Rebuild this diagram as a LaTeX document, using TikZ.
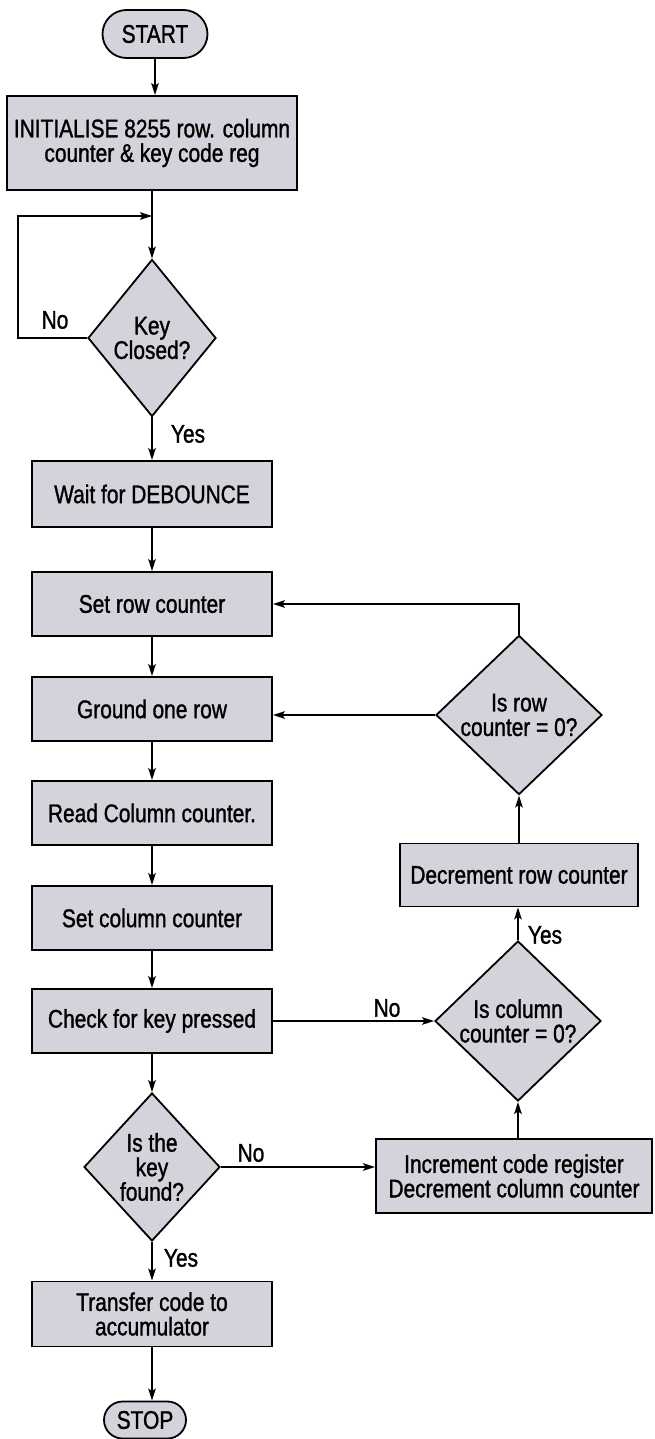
\documentclass[tikz,border=0pt]{standalone}
\usepackage{fontspec}
\setmainfont{Liberation Sans}[FakeStretch=0.82,FakeBold=1.2]
\usetikzlibrary{shapes.geometric,shapes.misc,arrows.meta}
\definecolor{boxfill}{RGB}{212,211,219}

\begin{document}
\begin{tikzpicture}[x=1pt,y=-1pt,
  every node/.style={font=\fontsize{25.5}{24.5}\selectfont},
  proc/.style={draw, line width=1.8pt, fill=boxfill, minimum width=240pt,
    minimum height=64pt, inner sep=0pt, align=center},
  decision/.style={draw, diamond, line width=1.8pt, fill=boxfill,
    inner sep=0pt, align=center},
  term/.style={draw, rounded rectangle, line width=1.8pt, fill=boxfill, inner sep=0pt},
  flow/.style={line width=1.8pt, -{Stealth[length=12pt,width=7.5pt,inset=2.5pt]}},
  lbl/.style={inner sep=0pt}]

\path[use as bounding box, fill=white] (0,0) rectangle (654,1439);

% main column
\node[term, minimum width=105pt, minimum height=48pt] (start) at (155,34) {START};
\node[proc, minimum width=290pt, minimum height=94pt] (init) at (152,143)
  {INITIALISE 8255 row. column\\counter \& key code reg};
\coordinate (join) at (152,216);
\node[decision, minimum width=128pt, minimum height=157pt] (key) at (152,338) {Key\\Closed?};
\coordinate (loop) at (18,338);
\node[proc, minimum height=66pt] (wait) at (152,494) {Wait for DEBOUNCE};
\node[proc] (setrow) at (152,604) {Set row counter};
\node[proc] (ground) at (152,709) {Ground one row};
\node[proc] (read) at (152,813) {Read Column counter.};
\node[proc] (setcol) at (152,918) {Set column counter};
\node[proc] (check) at (152,1021) {Check for key pressed};
\node[decision, minimum width=136pt, minimum height=148pt] (found) at (152,1167)
  {Is the\\key\\found?};
\node[proc, minimum height=65pt] (xfer) at (152,1314) {Transfer code to\\accumulator};
\node[term, minimum width=82pt, minimum height=37pt] (stop) at (145,1420) {STOP};

% right column
\node[decision, minimum width=166pt, minimum height=154pt] (rowz) at (519,715)
  {Is row\\counter = 0?};
\node[proc, minimum width=238pt, minimum height=63pt] (decr) at (519,875)
  {Decrement row counter};
\node[decision, minimum width=166pt, minimum height=152pt] (colz) at (518,1021)
  {Is column\\counter = 0?};
\node[proc, minimum width=276pt, minimum height=74pt] (incr) at (514,1176)
  {Increment code register\\Decrement column counter};

% branch labels
\node[lbl] (kno)  at (55,320)  {No};
\node[lbl] (kyes) at (188,434) {Yes};
\node[lbl] (cyes) at (545,935) {Yes};
\node[lbl] (cno)  at (387,1008) {No};
\node[lbl] (fno)  at (251,1153) {No};
\node[lbl] (fyes) at (181,1258) {Yes};

% connectors
\draw[flow] (start) -- (start |- init.north);
\draw[flow] (init) -- (key);
\draw[flow] (key.west) -- (loop) |- (join);
\draw[flow] (key) -- (wait);
\draw[flow] (wait) -- (setrow);
\draw[flow] (setrow) -- (ground);
\draw[flow] (ground) -- (read);
\draw[flow] (read) -- (setcol);
\draw[flow] (setcol) -- (check);
\draw[flow] (check) -- (found);
\draw[flow] (found) -- (xfer);
\draw[flow] (xfer.south) -- (xfer.south |- stop.north);

\draw[flow] (rowz.north) |- (setrow.east);
\draw[flow] (rowz.west) -- (rowz.west -| ground.east);
\draw[flow] (decr) -- (rowz);
\draw[flow] (colz.north) -- (colz.north |- decr.south);
\draw[flow] (check.east) -- (check.east -| colz.west);
\draw[flow] (found.east) -- (found.east -| incr.west);
\draw[flow] (incr.north -| colz.south) -- (colz.south);
\end{tikzpicture}
\end{document}
